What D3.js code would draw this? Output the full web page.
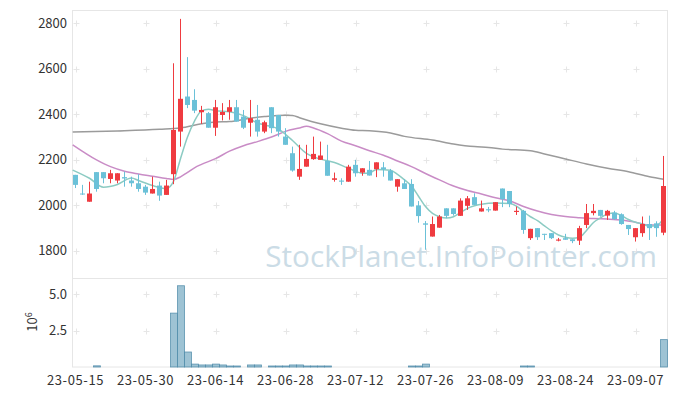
<!DOCTYPE html>
<html>
<head>
<meta charset="utf-8">
<script src="https://cdn.jsdelivr.net/npm/d3@7"></script>
<style>
body { margin: 0; background: #fff; }
text { font-family: "Noto Sans CJK KR", "Noto Sans", sans-serif; }
</style>
</head>
<body>
<svg id="chart" width="677" height="396"></svg>
<script>
// trading days shown (Korean market, yy-mm-dd)
const dates = [
  "23-05-15","23-05-16","23-05-17","23-05-18","23-05-19","23-05-22","23-05-23","23-05-24","23-05-25","23-05-26",
  "23-05-30","23-05-31","23-06-01","23-06-02","23-06-05","23-06-07","23-06-08","23-06-09","23-06-12","23-06-13",
  "23-06-14","23-06-15","23-06-16","23-06-19","23-06-20","23-06-21","23-06-22","23-06-23","23-06-26","23-06-27",
  "23-06-28","23-06-29","23-06-30","23-07-03","23-07-04","23-07-05","23-07-06","23-07-07","23-07-10","23-07-11",
  "23-07-12","23-07-13","23-07-14","23-07-17","23-07-18","23-07-19","23-07-20","23-07-21","23-07-24","23-07-25",
  "23-07-26","23-07-27","23-07-28","23-07-31","23-08-01","23-08-02","23-08-03","23-08-04","23-08-07","23-08-08",
  "23-08-09","23-08-10","23-08-11","23-08-14","23-08-16","23-08-17","23-08-18","23-08-21","23-08-22","23-08-23",
  "23-08-24","23-08-25","23-08-28","23-08-29","23-08-30","23-08-31","23-09-01","23-09-04","23-09-05","23-09-06",
  "23-09-07","23-09-08","23-09-11","23-09-12","23-09-13"
];

const opens = [
  2134,2052,2016,2146,2146,2116,2109,2124,2109,2097, 2082,2052,2087,2046,2137,2324,2478,2463,2409,2405,
  2341,2397,2411,2431,2390,2363,2376,2324,2431,2397, 2302,2229,2126,2170,2203,2200,2195,2112,2109,2104,
  2178,2144,2156,2159,2167,2152,2082,2097,2094,2000, 1921,1863,1902,1987,1987,1954,1998,2036,1973,1983,
  1977,2074,2063,1971,1976,1856,1900,1875,1878,1845, 1856,1851,1845,1914,1966,1980,1955,1968,1961,1914,
  1860,1878,1918,1921,1880
];
const highs = [
  2134,2090,2104,2146,2146,2156,2141,2148,2126,2137, 2090,2126,2104,2112,2624,2819,2651,2510,2437,2410,
  2463,2449,2463,2463,2419,2463,2441,2372,2431,2397, 2339,2258,2266,2266,2302,2280,2266,2144,2119,2178,
  2200,2163,2195,2189,2190,2160,2115,2115,2115,2019, 1931,1951,1958,1987,1987,2031,2041,2053,2021,1993,
  2014,2074,2063,1995,1980,1897,1900,1875,1878,1857, 1875,1851,1910,2006,2006,1980,1980,1976,1965,1914,
  1900,1951,1955,1930,2217
];
const lows = [
  2076,2046,2016,2060,2097,2097,2097,2082,2082,2060, 2046,2052,2020,2046,2093,2258,2427,2405,2358,2341,
  2305,2373,2376,2368,2335,2302,2302,2317,2317,2302, 2266,2148,2112,2170,2200,2200,2130,2104,2090,2104,
  2126,2130,2131,2124,2126,2109,2060,2072,1995,1924, 1805,1863,1902,1944,1955,1954,1980,2002,1973,1970,
  1977,1992,1992,1958,1875,1848,1848,1848,1852,1842, 1849,1834,1826,1900,1956,1950,1936,1936,1915,1870,
  1841,1862,1848,1862,1869
];
const closes = [
  2090,2048,2052,2072,2119,2141,2141,2118,2097,2072, 2056,2072,2043,2087,2331,2468,2441,2416,2419,2341,
  2431,2410,2431,2368,2341,2383,2324,2365,2339,2324, 2266,2153,2160,2204,2226,2219,2130,2119,2104,2170,
  2141,2163,2131,2189,2158,2109,2115,2072,1995,1953, 1915,1918,1951,1954,1962,2021,2031,2002,1987,1978,
  2014,2027,2006,1976,1892,1897,1860,1872,1856,1850, 1849,1843,1900,1966,1976,1954,1976,1940,1918,1896,
  1900,1918,1900,1900,2085
];
// volume, millions of shares
const volumes = [
  0.01,0.01,0.01,0.08,0.01,0.01,0.01,0.01,0.01,0.01, 0.01,0.01,0.01,0.01,3.70,5.58,1.03,0.20,0.14,0.14,
  0.20,0.14,0.07,0.07,0.03,0.14,0.14,0.03,0.07,0.07, 0.07,0.14,0.14,0.07,0.07,0.07,0.07,0.01,0.01,0.01,
  0.01,0.01,0.01,0.01,0.01,0.01,0.01,0.01,0.07,0.07, 0.20,0.01,0.01,0.01,0.01,0.01,0.01,0.01,0.01,0.01,
  0.01,0.01,0.01,0.01,0.07,0.07,0.01,0.01,0.01,0.01, 0.01,0.01,0.01,0.01,0.01,0.01,0.01,0.01,0.01,0.01,
  0.01,0.01,0.01,0.01,1.88
];

const ma5 = [[-0.4,2155],[2,2119],[4,2080],[6,2092],[8,2120],[9,2109],[11,2087],[13,2074],[14,2105],[15,2205],
  [16,2300],[17,2370],[18,2415],[19,2422],[20,2416],[22,2411],[24,2394],[26,2362],[27,2353],[29,2335],
  [30,2312],[31,2285],[33,2228],[35,2203],[37,2188],[39,2163],[41,2141],[42,2142],[43,2158],[45,2154],
  [46,2136],[47,2112],[48,2085],[49,2040],[50,1995],[51,1965],[52,1950],[53,1944],[54,1950],[55,1968],
  [56,1987],[58,2005],[60,2010],[62,2008],[63,1997],[64,1972],[65,1950],[66,1933],[67,1910],[68,1888],
  [69,1870],[70,1860],[71,1856],[72,1860],[73,1890],[74,1925],[75,1945],[76,1962],[77,1966],[78,1955],
  [79,1938],[80,1926],[81,1918],[82,1908],[83,1910],[84,1944]];
const ma20 = [[-0.4,2266],[3,2200],[5,2170],[7,2150],[9,2138],[11,2128],[13,2118],[14,2114],[15,2125],[16,2145],
  [17,2165],[18,2180],[20,2205],[22,2238],[24,2262],[26,2280],[28,2300],[30,2325],[32,2340],[33,2347],
  [34,2340],[36,2315],[38,2282],[40,2262],[42,2240],[44,2220],[46,2195],[48,2170],[50,2140],[52,2112],
  [54,2085],[56,2065],[58,2050],[60,2033],[62,2020],[64,1995],[66,1975],[68,1960],[70,1951],[72,1946],
  [74,1942],[76,1940],[78,1936],[80,1926],[82,1914],[84,1914]];
const ma60 = [[-0.4,2322],[6,2327],[12,2334],[15,2340],[18,2358],[20,2366],[22,2368],[25,2383],[27,2390],[30,2396],
  [31,2395],[32,2385],[35,2358],[38,2339],[40,2330],[42,2328],[45,2318],[47,2303],[51,2287],[54,2270],
  [57,2258],[59,2254],[61,2247],[65,2240],[67,2226],[70,2204],[73,2182],[76,2163],[79,2148],[82,2126],[84,2115]];

const priceTicks = [1800, 2000, 2200, 2400, 2600, 2800];
const volTicks = [2.5, 5.0];
const dateTickIdx = [0, 10, 20, 30, 40, 50, 60, 70, 80];

const svg = d3.select("#chart");
const plotLeft = 72.5, plotRight = 667.5, plotTop = 10, plotMid = 278, plotBottom = 367;

let x = d3.scaleBand().domain(d3.range(dates.length)).range([72, 667]).padding(0);
const bw = x.bandwidth();
const cx = (i) => x(i) + bw / 2;
// continuous position for the average lines (same spacing as the bands)
let xl = d3.scaleLinear().domain([0, dates.length - 1]).range([cx(0), cx(dates.length - 1)]);
let y = d3.scaleLinear().domain([1681, 2858]).range([plotMid, plotTop]);
let vy = d3.scaleLinear().domain([0, 6.18]).range([plotBottom, plotMid - 1]);

// frame
svg.append("rect").attr("x", plotLeft).attr("y", plotTop + 0.5).attr("width", plotRight - plotLeft).attr("height", plotBottom - plotTop - 0.5)
    .attr("fill", "none").attr("stroke", "#e6e6e6");
svg.append("line").attr("x1", plotLeft).attr("x2", plotRight).attr("y1", plotMid + 0.5).attr("y2", plotMid + 0.5).attr("stroke", "#e6e6e6");

// grid crosses
let crossYs = priceTicks.map((t) => y(t)).concat(volTicks.map((t) => vy(t)));
let crossPath = "";
dateTickIdx.forEach((i) => {
    crossYs.forEach((yy) => {
        let px = Math.round(cx(i)) + 0.5, py = Math.round(yy) + 0.5;
        crossPath += "M" + (px - 3) + "," + py + "h6M" + px + "," + (py - 3) + "v6";
    });
});
svg.append("path").attr("d", crossPath).attr("stroke", "#e6e6e6").attr("stroke-width", 1);

// watermark - sized so it runs from x=265 to x=657
let wm = svg.append("text").attr("x", 657).attr("y", 267).attr("text-anchor", "end")
    .attr("font-size", 33).attr("fill", "#cbdce6")
    .style("font-family", "'Open Sans', sans-serif")
    .text("StockPlanet.InfoPointer.com");
const wmLen = wm.node().getComputedTextLength();
if (wmLen > 0) wm.attr("font-size", 33 * 392 / wmLen);

// moving averages
const line = d3.line().x((d) => xl(d[0])).y((d) => y(d[1])).curve(d3.curveMonotoneX);
svg.append("path").attr("d", line(ma60)).attr("fill", "none").attr("stroke", "#9b9b9b").attr("stroke-width", 1.5);
svg.append("path").attr("d", line(ma20)).attr("fill", "none").attr("stroke", "#c98cc6").attr("stroke-width", 1.5);
svg.append("path").attr("d", line(ma5)).attr("fill", "none").attr("stroke", "#8ccbc3").attr("stroke-width", 1.5);

// candles
const upColor = "#ef3b40", downColor = "#6bc1d8";
let candles = svg.append("g").selectAll("g").data(d3.range(dates.length)).enter().append("g");
candles.append("line")
    .attr("x1", (i) => cx(i)).attr("x2", (i) => cx(i))
    .attr("y1", (i) => y(highs[i])).attr("y2", (i) => y(lows[i]))
    .attr("stroke", (i) => closes[i] >= opens[i] ? upColor : downColor).attr("stroke-width", 1);
candles.append("rect")
    .attr("x", (i) => x(i) + 1).attr("width", bw - 2)
    .attr("y", (i) => y(Math.max(opens[i], closes[i])))
    .attr("height", (i) => Math.max(1, y(Math.min(opens[i], closes[i])) - y(Math.max(opens[i], closes[i]))))
    .attr("fill", (i) => closes[i] >= opens[i] ? upColor : downColor);

// volume bars (bars thinner than half a pixel are not drawn)
svg.append("g").selectAll("rect")
    .data(volumes.map((v, i) => ({v: v, i: i})).filter((d) => plotBottom - vy(d.v) >= 0.5))
    .enter().append("rect")
    .attr("x", (d) => x(d.i) + 0.5).attr("width", bw)
    .attr("y", (d) => vy(d.v)).attr("height", (d) => plotBottom - vy(d.v))
    .attr("fill", "rgba(120,172,196,0.72)").attr("stroke", "rgba(80,140,170,0.9)").attr("stroke-width", 0.8);

// axis labels
svg.append("g").selectAll("text").data(priceTicks).enter().append("text")
    .attr("x", 67).attr("y", (d) => y(d)).attr("dy", "0.35em").attr("text-anchor", "end")
    .attr("font-size", 13).attr("fill", "#333").text((d) => d);
svg.append("g").selectAll("text").data(volTicks).enter().append("text")
    .attr("x", 67).attr("y", (d) => vy(d)).attr("dy", "0.35em").attr("text-anchor", "end")
    .attr("font-size", 13).attr("fill", "#333").text((d) => d.toFixed(1));
svg.append("g").selectAll("text").data(dateTickIdx).enter().append("text")
    .attr("x", (i) => cx(i)).attr("y", 385).attr("text-anchor", "middle")
    .attr("font-size", 13).attr("letter-spacing", 0.6).attr("fill", "#333").text((i) => dates[i]);

// offset label 10^6
let off = svg.append("text").attr("transform", "translate(37,322) rotate(-90)")
    .attr("text-anchor", "middle").attr("font-size", 13).attr("fill", "#333");
off.append("tspan").text("10");
off.append("tspan").attr("dy", -5).attr("font-size", 9).text("6");
</script>
</body>
</html>
